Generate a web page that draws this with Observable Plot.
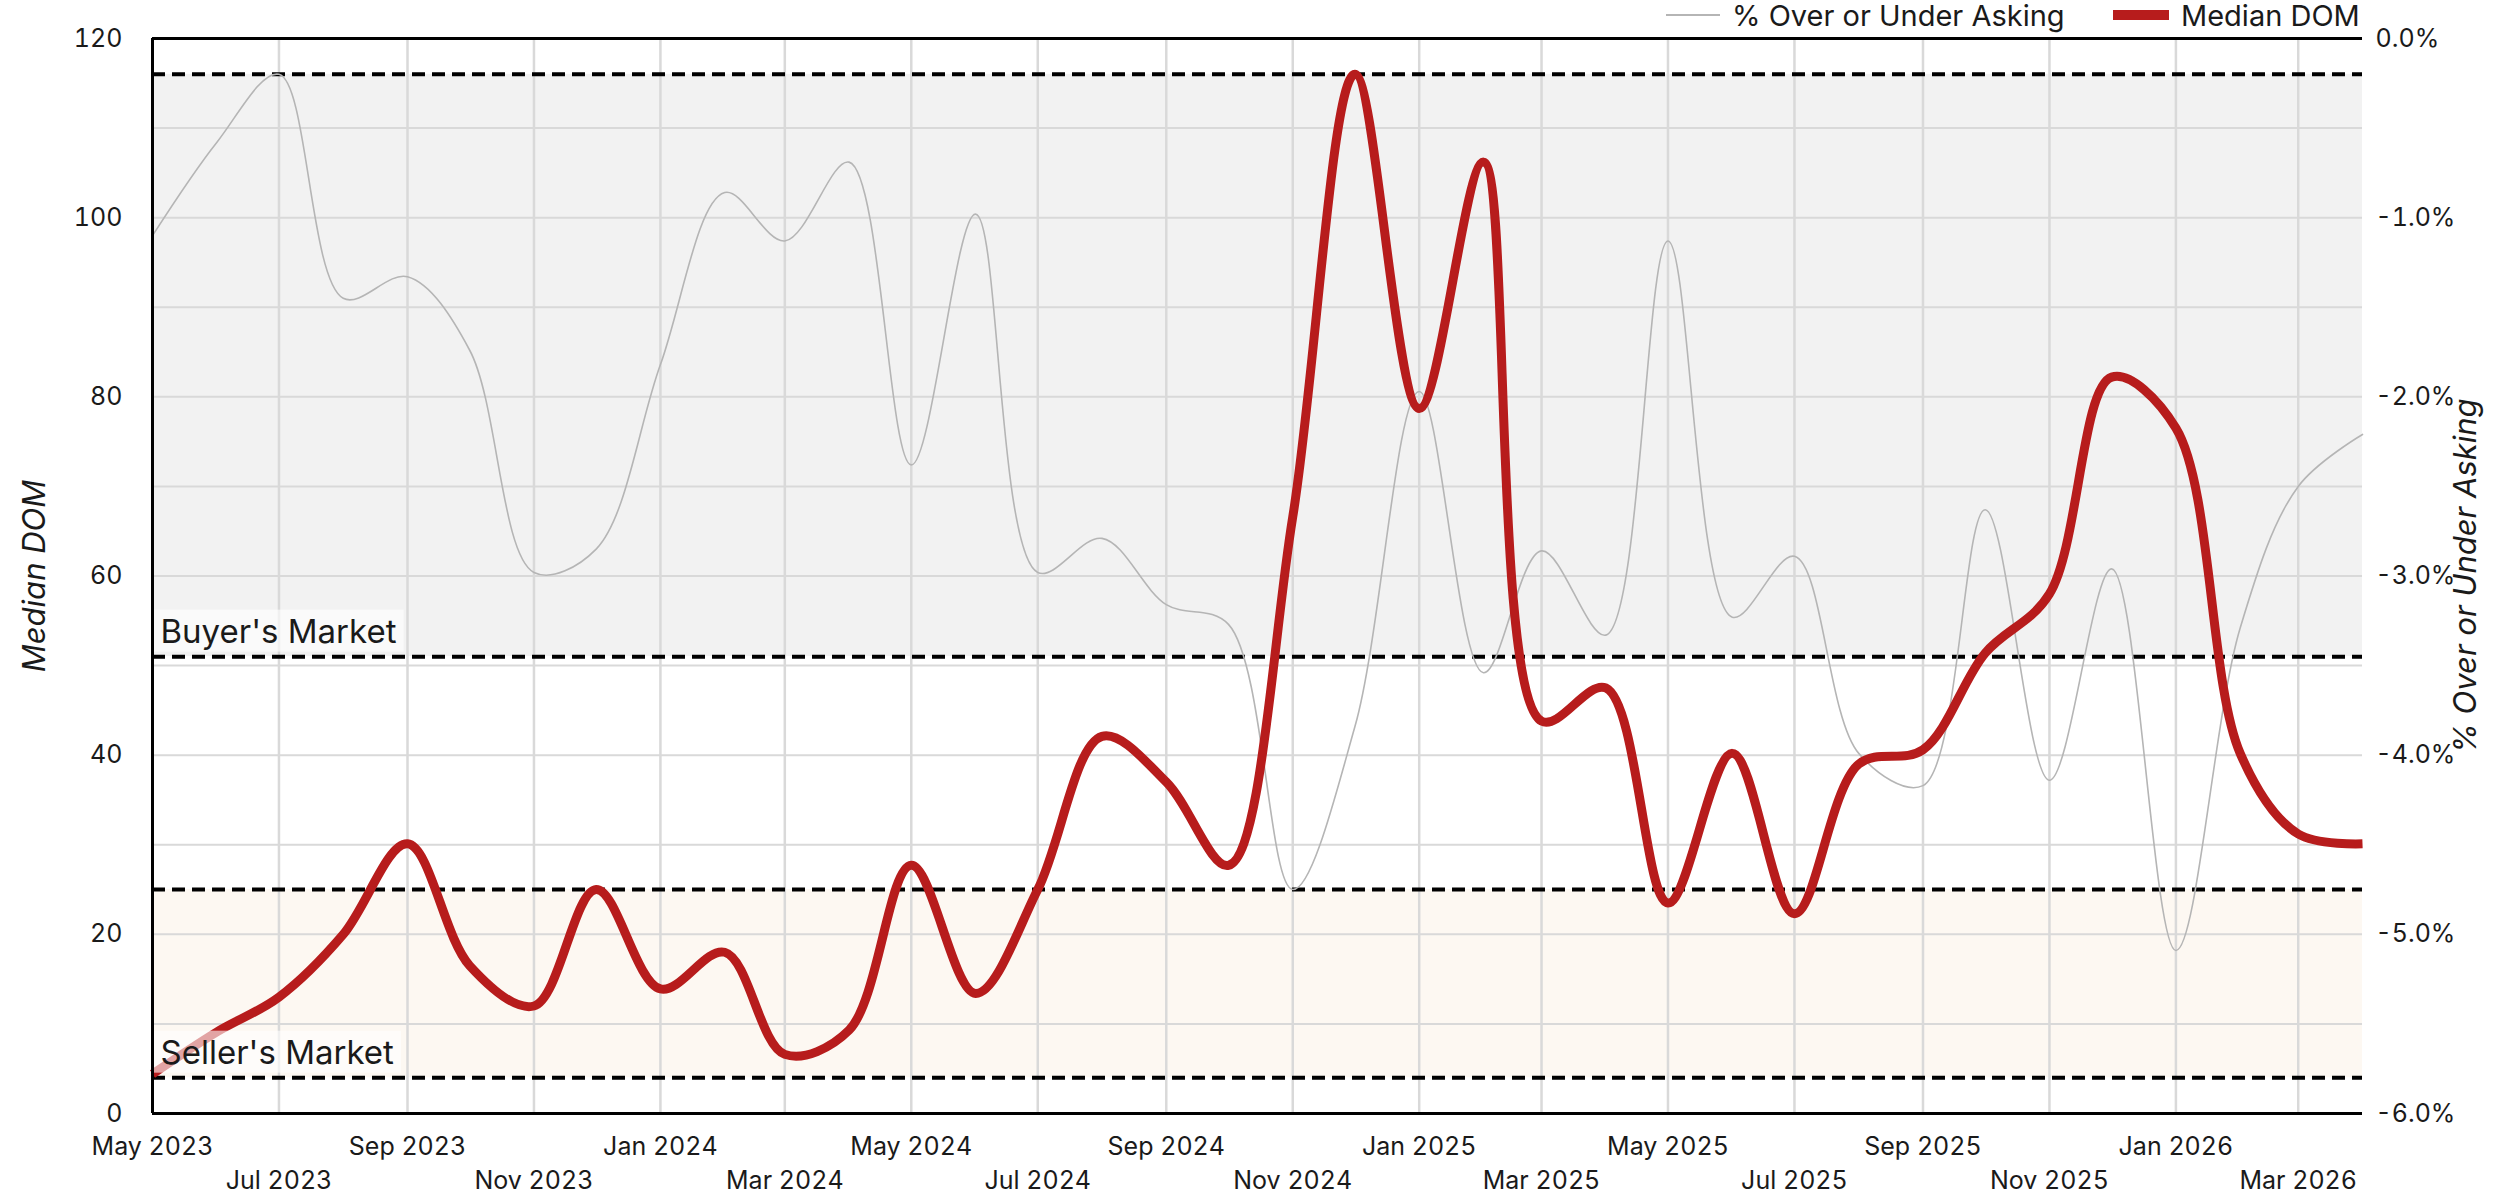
<!DOCTYPE html>
<html>
<head>
<meta charset="utf-8">
<script src="https://cdn.jsdelivr.net/npm/d3@7"></script>
<script src="https://cdn.jsdelivr.net/npm/@observablehq/plot@0.6"></script>
<style>
  html, body { margin: 0; padding: 0; background: #fff; }
  body { position: relative; width: 2520px; height: 1200px; overflow: hidden; font-family: Inter, "Open Sans", sans-serif; color: #1a1a1a; }
  #legend { position: absolute; top: 0; left: 0; height: 30px; width: 2520px; z-index: 2; }
  .li { position: absolute; top: 0; height: 30px; display: flex; align-items: center; font-size: 29px; white-space: nowrap; }
  .sw { display: inline-block; margin-right: 12px; }
  #chart svg { display: block; }
</style>
</head>
<body>
<div id="legend">
  <div class="li" style="left:1666px"><span class="sw" style="width:54px;height:2px;background:#b5b5b5"></span>% Over or Under Asking</div>
  <div class="li" style="left:2113px"><span class="sw" style="width:56px;height:10px;background:#b71c1c"></span>Median DOM</div>
</div>
<div id="chart"></div>
<script>
// ---- data ----
const months = ["2023-05","2023-06","2023-07","2023-08","2023-09","2023-10","2023-11","2023-12",
  "2024-01","2024-02","2024-03","2024-04","2024-05","2024-06","2024-07","2024-08","2024-09","2024-10","2024-11","2024-12",
  "2025-01","2025-02","2025-03","2025-04","2025-05","2025-06","2025-07","2025-08","2025-09","2025-10","2025-11","2025-12",
  "2026-01","2026-02","2026-03","2026-04"];
const medianDOM = [4.4, 9.1, 13, 20, 30.1, 16.5, 12, 25,
  13.9, 18, 6.6, 9.3, 27.7, 13.4, 25, 42.1, 37, 27.7, 66.6, 116,
  78.7, 106.2, 43.8, 47.5, 23.5, 40.2, 22.3, 39, 40.6, 51.4, 58, 82.2,
  76.5, 40.2, 31.2, 30.1];
const pctOverUnder = [-1.10, -0.58, -0.20, -1.45, -1.33, -1.74, -2.98, -2.85,
  -1.82, -0.86, -1.13, -0.69, -2.38, -0.98, -2.98, -2.79, -3.16, -3.27, -4.75, -3.84,
  -1.97, -3.54, -2.86, -3.33, -1.13, -3.23, -2.89, -3.99, -4.17, -2.63, -4.14, -2.96,
  -5.09, -3.29, -2.50, -2.21];
const xTicksRow1 = ["2023-05","2023-09","2024-01","2024-05","2024-09","2025-01","2025-05","2025-09","2026-01"];
const xTicksRow2 = ["2023-07","2023-11","2024-03","2024-07","2024-11","2025-03","2025-07","2025-11","2026-03"];
const domTicks = [0, 20, 40, 60, 80, 100, 120];
const domGrid = [10, 20, 30, 40, 50, 60, 70, 80, 90, 100, 110];
const pctTicks = [-6, -5, -4, -3, -2, -1, 0];
const bandNames = ["Buyer's Market", "Seller's Market"];
const bandLow = [51, 4];
const bandHigh = [116, 25];
const bandFill = ["#f2f2f2", "#fdf8f2"];

// ---- derived tables ----
const parse = d3.utcParse("%Y-%m");
const pctMin = -6, pctMax = 0, domMin = 0, domMax = 120;
const pctToDom = p => domMin + (p - pctMin) / (pctMax - pctMin) * (domMax - domMin);
const data = months.map((m, i) => ({date: parse(m), dom: medianDOM[i], pct: pctOverUnder[i]}));
const bands = bandNames.map((n, i) => ({name: n, lo: bandLow[i], hi: bandHigh[i], fill: bandFill[i]}));
const edges = bands.flatMap(b => [b.lo, b.hi]);
const allXTicks = xTicksRow1.concat(xTicksRow2).map(parse);
const xDomain = d3.extent(data, d => d.date);

const plot = Plot.plot({
  width: 2520,
  height: 1200,
  marginTop: 38,
  marginBottom: 87,
  marginLeft: 152,
  marginRight: 158,
  style: {fontSize: "25px", fontFamily: "Inter, 'Open Sans', sans-serif", color: "#1a1a1a", background: "transparent"},
  x: {type: "utc", domain: xDomain},
  y: {domain: [domMin, domMax]},
  marks: [
    Plot.rect(bands, {y1: "lo", y2: "hi", fill: "fill"}),
    Plot.gridY(domGrid, {stroke: "#d9d9d9", strokeOpacity: 1, strokeWidth: 2}),
    Plot.gridX(allXTicks, {stroke: "#d9d9d9", strokeOpacity: 1, strokeWidth: 2.5}),
    Plot.ruleY(edges, {stroke: "#000", strokeWidth: 4, strokeDasharray: "13,7"}),
    Plot.line(data, {x: "date", y: d => pctToDom(d.pct), stroke: "#b5b5b5", strokeWidth: 1.6, curve: "catmull-rom"}),
    Plot.line(data, {x: "date", y: "dom", stroke: "#b71c1c", strokeWidth: 9, curve: "catmull-rom", strokeLinecap: "butt"}),
    Plot.text(bands, {y: "lo", text: "name", frameAnchor: "left", textAnchor: "start", lineAnchor: "bottom",
      dx: 8, dy: -14, fontSize: 33, fill: "#1a1a1a", className: "band-label"}),
    Plot.ruleY([domMin, domMax], {stroke: "#000", strokeWidth: 3}),
    Plot.ruleX([xDomain[0]], {stroke: "#000", strokeWidth: 3}),
    Plot.axisY(domTicks, {anchor: "left", tickSize: 0, tickPadding: 30, label: "Median DOM", labelArrow: false, labelAnchor: "center", labelOffset: 130}),
    Plot.axisY(pctTicks.map(pctToDom), {anchor: "right", tickSize: 0, tickPadding: 13,
      tickFormat: (d) => (pctMin + (d - domMin) / (domMax - domMin) * (pctMax - pctMin)).toFixed(1) + "%",
      label: "% Over or Under Asking", labelArrow: false, labelAnchor: "center", labelOffset: 113}),
    Plot.axisX(xTicksRow1.map(parse), {anchor: "bottom", tickSize: 0, tickPadding: 24, tickFormat: d3.utcFormat("%b %Y"), label: null}),
    Plot.axisX(xTicksRow2.map(parse), {anchor: "bottom", tickSize: 0, tickPadding: 58, tickFormat: d3.utcFormat("%b %Y"), label: null})
  ]
});
document.getElementById("chart").appendChild(plot);

// italic, larger axis titles (strip any arrow)
plot.querySelectorAll("g[aria-label='y-axis label'] text").forEach(el => {
  el.textContent = el.textContent.replace(/\s*[→↑↓←]\s*/g, "").trim();
  el.setAttribute("font-style", "italic");
  el.setAttribute("font-size", "31");
});

// semi-transparent backing boxes behind the band labels
const x0 = plot.scale("x").apply(xDomain[0]);
plot.querySelectorAll("g.band-label text").forEach(t => {
  const bb = t.getBBox();
  const ctm = t.getCTM();
  const r = document.createElementNS("http://www.w3.org/2000/svg", "rect");
  const left = x0;
  const top = bb.y + ctm.f - 1;
  const right = bb.x + ctm.e + bb.width + 7;
  r.setAttribute("x", left);
  r.setAttribute("y", top);
  r.setAttribute("width", right - left);
  r.setAttribute("height", bb.height + 2);
  r.setAttribute("fill", "#fff");
  r.setAttribute("fill-opacity", 0.6);
  const g = t.closest("g.band-label");
  g.parentNode.insertBefore(r, g);
});
</script>
</body>
</html>
